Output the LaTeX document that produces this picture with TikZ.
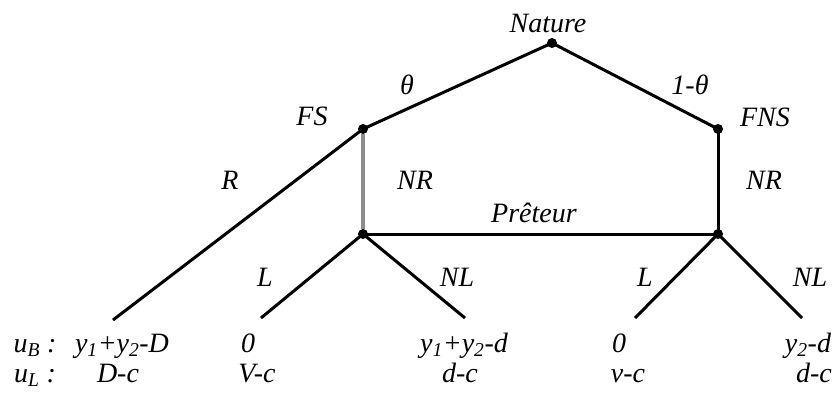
\documentclass[tikz,border=0pt]{standalone}
\usepackage{fontspec}
\setmainfont{LiberationSerif}[Extension=.ttf,UprightFont=*-Regular,ItalicFont=*-Italic,BoldFont=*-Bold,BoldItalicFont=*-BoldItalic]
\begin{document}
\begin{tikzpicture}[x=1pt,y=-1pt,
  lbl/.style={font=\fontsize{28}{32}\selectfont\itshape, inner sep=0pt, anchor=base},
  dot/.style={circle, fill=black, inner sep=0pt, minimum size=10pt},
  edge/.style={line width=3pt, draw=black},
  grayedge/.style={line width=3.5pt, draw=black!45}]
\useasboundingbox (0,0) rectangle (837,402);
% decision nodes
\node[dot] (nat) at (552,43) {};
\node[dot] (fs)  at (363,129) {};
\node[dot] (fns) at (718,129) {};
\node[dot] (pl)  at (363,234) {};
\node[dot] (pr)  at (718,234) {};
% leaf ends
\coordinate (r)   at (113,320);
\coordinate (ll)  at (261,318);
\coordinate (nll) at (465,318);
\coordinate (lr)  at (635,318);
\coordinate (nlr) at (802,318);
% connectors
\draw[edge] (nat.center) -- (fs.center);
\draw[edge] (nat.center) -- (fns.center);
\draw[edge] (fs.center) -- (r);
\draw[grayedge] (fs) -- (pl);
\draw[edge] (fns.center) -- (pr.center);
\draw[edge] (pl.center) -- (pr.center);
\draw[edge] (pl.center) -- (ll);
\draw[edge] (pl.center) -- (nll);
\draw[edge] (pr.center) -- (lr);
\draw[edge] (pr.center) -- (nlr);
% labels
\node[lbl] (tnat) at (548,32) {Nature};
\node[lbl] (tth)  at (407,94) {θ};
\node[lbl] (tth2) at (690,94) {1-θ};
\node[lbl] (tfs)  at (312,125) {FS};
\node[lbl] (tfns) at (765,126) {FNS};
\node[lbl] (tr)   at (230,189) {R};
\node[lbl] (tnr1) at (415,189) {NR};
\node[lbl] (tnr2) at (764,189) {NR};
\node[lbl] (tpr)  at (534,222) {Prêteur};
\node[lbl] (tl1)  at (265,286) {L};
\node[lbl] (tnl1) at (457,286) {NL};
\node[lbl] (tl2)  at (645,286) {L};
\node[lbl] (tnl2) at (810,286) {NL};
% payoffs
\node[lbl] (ub) at (35,352) {u\textsubscript{B} :};
\node[lbl] (ul) at (35,382) {u\textsubscript{L} :};
\node[lbl] (p1a) at (122,352) {y\textsubscript{1}+y\textsubscript{2}-D};
\node[lbl] (p1b) at (118,382) {D-c};
\node[lbl] (p2a) at (248,352) {0};
\node[lbl] (p2b) at (257,382) {V-c};
\node[lbl] (p3a) at (464,352) {y\textsubscript{1}+y\textsubscript{2}-d};
\node[lbl] (p3b) at (460,382) {d-c};
\node[lbl] (p4a) at (619,352) {0};
\node[lbl] (p4b) at (628,382) {v-c};
\node[lbl] (p5a) at (808,352) {y\textsubscript{2}-d};
\node[lbl] (p5b) at (814,382) {d-c};
\end{tikzpicture}
\end{document}
